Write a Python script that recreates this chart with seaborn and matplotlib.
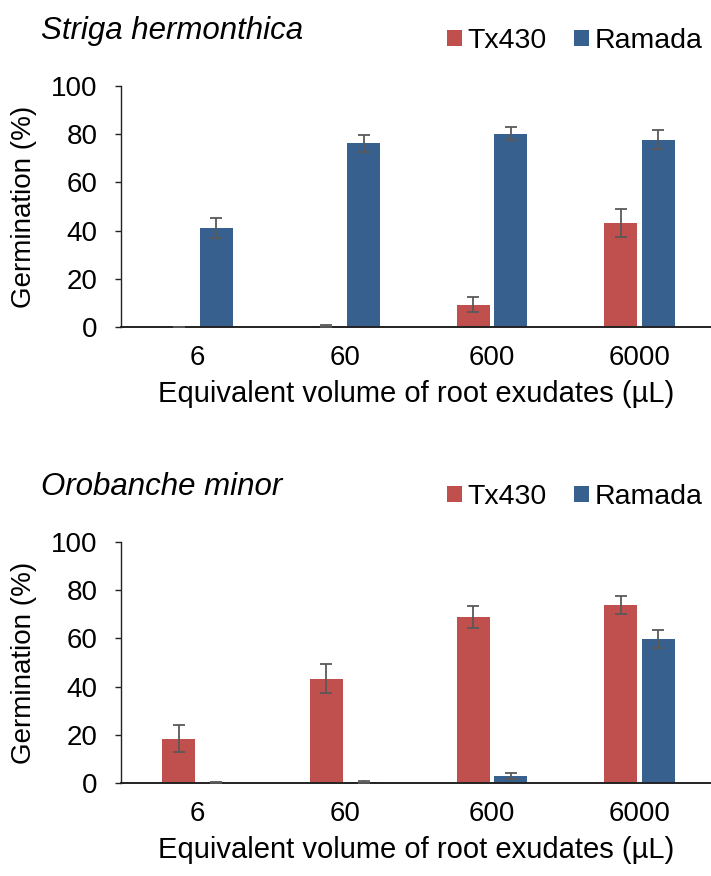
import pandas as pd
import seaborn as sns
import matplotlib.pyplot as plt
from matplotlib.patches import Patch

# values
doses = ["6", "60", "600", "6000"]
cultivars = ["Tx430", "Ramada"]

striga_tx430 = [0.0, 0.5, 9.3, 43.1]
striga_tx430_err = [0.1, 0.3, 3.0, 5.8]
striga_ramada = [41.1, 76.2, 80.1, 77.7]
striga_ramada_err = [4.0, 3.6, 2.7, 3.9]

oro_tx430 = [18.3, 43.2, 68.7, 73.9]
oro_tx430_err = [5.6, 6.0, 4.6, 3.8]
oro_ramada = [0.1, 0.4, 2.9, 59.6]
oro_ramada_err = [0.1, 0.3, 1.2, 3.7]

RED = "#C0504D"
BLUE = "#37608F"
ERR = "#595959"

sns.set_theme(style="white")
plt.rcParams['font.family'] = ['Liberation Sans', 'DejaVu Sans']
plt.rcParams['text.color'] = 'black'
plt.rcParams['axes.labelcolor'] = 'black'
plt.rcParams['xtick.color'] = 'black'
plt.rcParams['ytick.color'] = 'black'


def long_df(tx, ra):
    return pd.DataFrame({
        "dose": doses * 2,
        "cultivar": [cultivars[0]] * 4 + [cultivars[1]] * 4,
        "germ": list(tx) + list(ra),
    })


def draw_panel(ax, tx, ra, tx_err, ra_err):
    df = long_df(tx, ra)
    sns.barplot(data=df, x="dose", y="germ", hue="cultivar", order=doses,
                hue_order=cultivars, palette=[RED, BLUE], saturation=1,
                width=0.51, gap=0.12, errorbar=None, legend=False,
                linewidth=0, ax=ax)
    for container, errs in zip(ax.containers, [tx_err, ra_err]):
        for bar, e in zip(container, errs):
            xc = bar.get_x() + bar.get_width() / 2
            ax.errorbar(xc, bar.get_height(), yerr=e, color=ERR, lw=1.3,
                        capsize=4, capthick=1.3, zorder=5)
    ax.set_ylim(0, 100)
    ax.set_yticks([0, 20, 40, 60, 80, 100])
    ax.set_xlim(-0.523, 3.486)
    ax.set_xlabel("Equivalent volume of root exudates (µL)", fontsize=21, labelpad=6.5)
    ax.set_ylabel("Germination (%)", fontsize=20, labelpad=10)
    ax.tick_params(axis="y", labelsize=20, left=True, length=4.5, width=1.0,
                   color="#222222", pad=12)
    ax.tick_params(axis="x", labelsize=20, bottom=False, length=0, pad=13)
    sns.despine(ax=ax)
    ax.spines["left"].set_color("#222222")
    ax.spines["left"].set_linewidth(1.0)
    ax.spines["bottom"].set_color("#222222")
    ax.spines["bottom"].set_linewidth(1.4)


fig = plt.figure(figsize=(7.11, 8.76), dpi=100)
ax1 = fig.add_axes([0.1695, 0.6267, 0.8305, 0.2751])
ax2 = fig.add_axes([0.1695, 0.1062, 0.8305, 0.2751])

draw_panel(ax1, striga_tx430, striga_ramada, striga_tx430_err, striga_ramada_err)
draw_panel(ax2, oro_tx430, oro_ramada, oro_tx430_err, oro_ramada_err)

handles = [Patch(facecolor=RED, edgecolor="none"), Patch(facecolor=BLUE, edgecolor="none")]
for ytitle, yleg, name in [(0.9555, 0.953, "Striga hermonthica"),
                           (0.435, 0.4326, "Orobanche minor")]:
    fig.text(0.058, ytitle, name, style="italic", fontsize=22.5, va="baseline")
    fig.legend(handles, cultivars, loc="center right", bbox_to_anchor=(0.988, yleg),
               ncol=2, frameon=False, fontsize=20.5, handlelength=0.53,
               handleheight=0.53, handletextpad=0.2, columnspacing=0.95,
               borderpad=0, borderaxespad=0)

fig.savefig("out.png", dpi=100)
